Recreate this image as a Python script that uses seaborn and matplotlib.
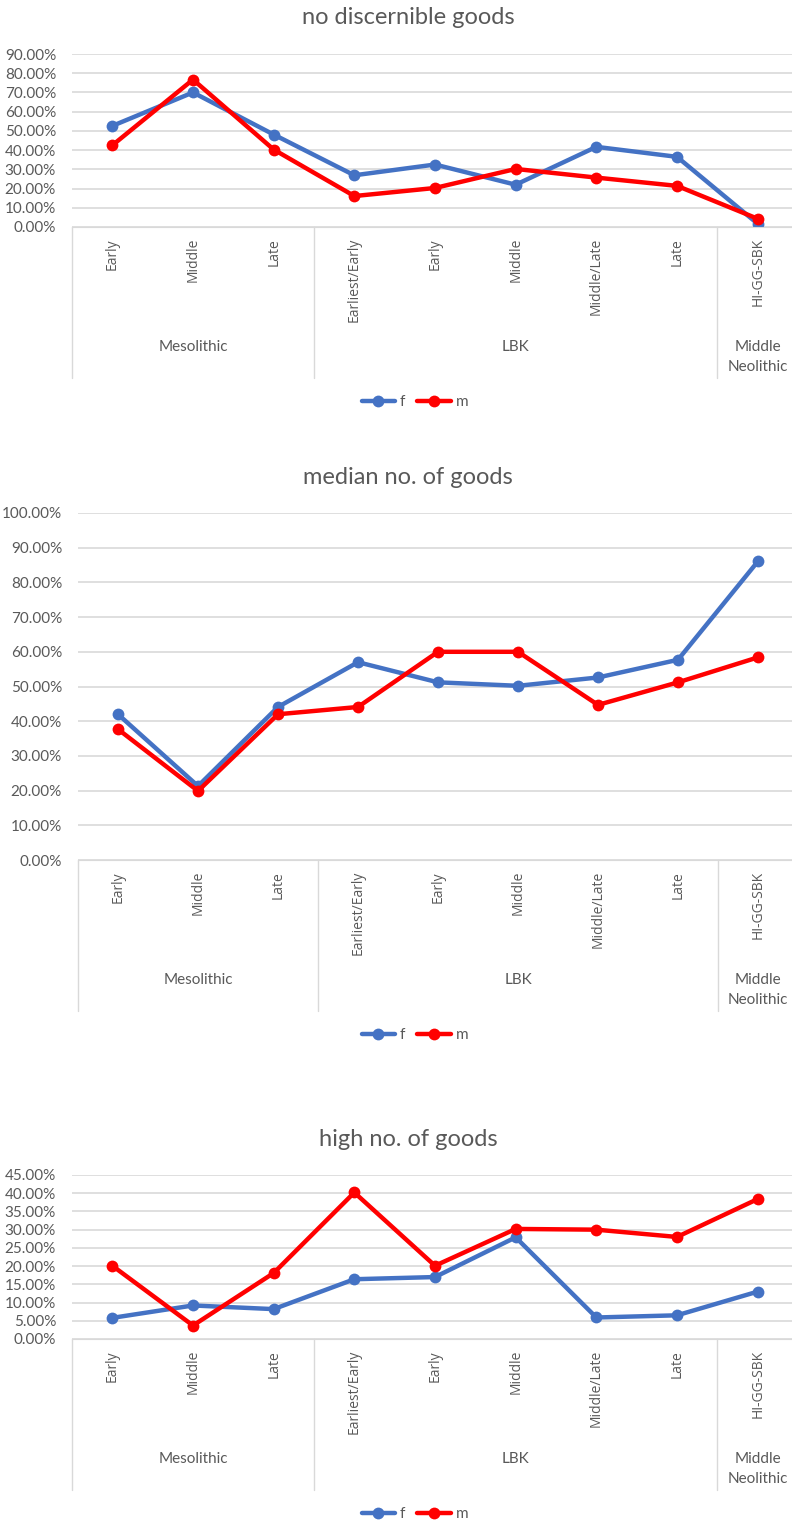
import matplotlib
matplotlib.use('Agg')
import matplotlib.pyplot as plt
import matplotlib.transforms as mtransforms
from matplotlib.ticker import PercentFormatter, MultipleLocator
import numpy as np
import pandas as pd
import seaborn as sns

W, H = 792, 1521

periods = ['Early', 'Middle', 'Late', 'Earliest/Early', 'Early', 'Middle',
           'Middle/Late', 'Late', 'HI-GG-SBK']
group_names = ['Mesolithic', 'LBK', 'Middle\nNeolithic']
group_first = [0, 3, 8]
group_last = [2, 7, 8]

# percent of individuals
none_f = [52.6, 70.0, 48.1, 26.9, 32.5, 22.0, 41.7, 36.5, 1.7]
none_m = [42.5, 76.7, 40.3, 16.1, 20.3, 30.2, 25.7, 21.4, 4.3]
median_f = [42.0, 21.3, 44.1, 57.0, 51.2, 50.2, 52.6, 57.7, 86.1]
median_m = [37.7, 19.9, 42.0, 44.1, 60.0, 60.0, 44.7, 51.2, 58.4]
high_f = [5.8, 9.2, 8.2, 16.4, 17.0, 27.9, 5.9, 6.5, 13.0]
high_m = [20.1, 3.7, 18.1, 40.2, 20.1, 30.2, 30.0, 28.0, 38.4]

grey = '#595959'
light = '#d9d9d9'
colors = {'f': '#4472C4', 'm': '#FF0000'}

sns.set_style('white')
plt.rcParams['font.family'] = ['Lato', 'DejaVu Sans']

fig = plt.figure(figsize=(W / 100, H / 100), dpi=100)


def fy(px):
    return 1 - px / H


def panel(title, f_vals, m_vals, ymax, step, left_px, top_px, zero_px, title_px):
    ax = fig.add_axes([left_px / W, fy(zero_px), (798 - left_px) / W,
                       (zero_px - top_px) / H])
    df = pd.DataFrame({
        'pos': list(range(len(periods))) * 2,
        'value': f_vals + m_vals,
        'sex': ['f'] * len(f_vals) + ['m'] * len(m_vals),
    })
    sns.lineplot(data=df, x='pos', y='value', hue='sex', palette=colors,
                 marker='o', markersize=8.5, markeredgewidth=0, linewidth=3.2,
                 ax=ax)
    ax.set_xlim(-0.5, 8.5)
    ax.set_ylim(0, ymax)
    ax.yaxis.set_major_locator(MultipleLocator(step))
    ax.yaxis.set_major_formatter(PercentFormatter(xmax=100, decimals=2))
    ax.grid(axis='y', color=light, linewidth=1.2)
    ax.set_axisbelow(True)
    for s in ['top', 'right', 'left']:
        ax.spines[s].set_visible(False)
    ax.spines['bottom'].set_color(light)
    ax.set_xlabel('')
    ax.set_ylabel('')
    ax.set_xticks(range(len(periods)))
    ax.set_xticklabels(periods, rotation=90, va='top', ha='center',
                       fontsize=10, color=grey, family='Open Sans')
    ax.tick_params(axis='x', length=0, pad=8)
    ax.tick_params(axis='y', length=0, pad=11.5, labelsize=11, labelcolor=grey)

    trans = mtransforms.blended_transform_factory(ax.transData, fig.transFigure)
    for x in [-0.5, 2.5, 7.5]:
        ax.plot([x, x], [fy(zero_px), fy(zero_px + 151)], color=light,
                linewidth=1, transform=trans, clip_on=False)
    for name, a, b in zip(group_names, group_first, group_last):
        ax.text((a + b) / 2, fy(zero_px + 113), name, transform=trans,
                ha='center', va='top', fontsize=11, color=grey,
                linespacing=1.55)

    fig.text(408 / W, fy(title_px), title, ha='center', va='center',
             fontsize=17, color=grey)

    handles, labels = ax.get_legend_handles_labels()
    ax.legend(handles, labels, loc='center',
              bbox_to_anchor=(415 / W, fy(zero_px + 175)),
              bbox_transform=fig.transFigure, ncol=2, frameon=False,
              handlelength=2.2, columnspacing=0.8, handletextpad=0.3,
              fontsize=11, labelcolor=grey)


panel('no discernible goods', none_f, none_m, 90, 10, 72, 54, 227, 17)
panel('median no. of goods', median_f, median_m, 100, 10, 78, 513, 860, 477)
panel('high no. of goods', high_f, high_m, 45, 5, 72, 1175, 1339, 1140)

fig.savefig('out.png', dpi=100)
